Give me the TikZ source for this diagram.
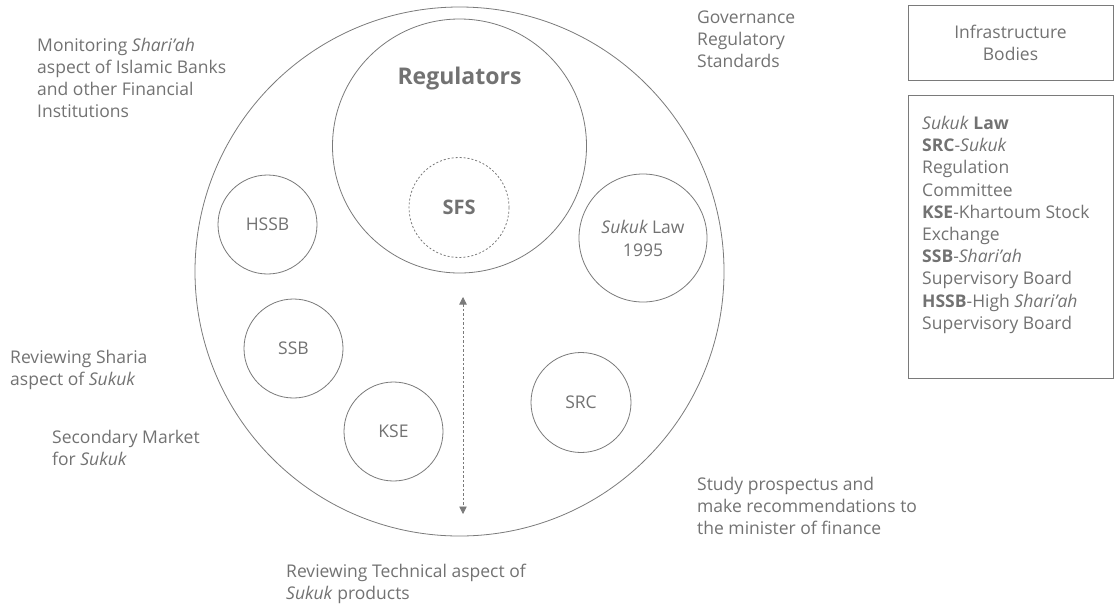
\documentclass[tikz,border=0pt]{standalone}
\usepackage{fontspec}
\setmainfont{Open Sans}
\usetikzlibrary{arrows.meta}
\definecolor{tx}{HTML}{727272}
\definecolor{ln}{HTML}{7A7A7A}
\begin{document}
\begin{tikzpicture}[x=1pt,y=-1pt,
  circ/.style={draw=ln, line width=0.8pt, circle, inner sep=0pt, text=tx, font=\fontsize{17.5}{23}\selectfont, align=center},
  lbl/.style={text=tx, font=\fontsize{17.5}{22}\selectfont, align=left, anchor=north west, inner sep=0pt},
  boxst/.style={draw=ln, line width=0.8pt, inner sep=0pt}]
\useasboundingbox (0,0) rectangle (1115,603);
% circles
\node[circ, minimum size=529] (outer) at (459.5,271.5) {};
\node[circ, minimum size=254] (reg) at (459.5,146) {};
\node[text=tx, font=\fontsize{23}{26}\bfseries\selectfont, inner sep=0pt] (regt) at (459.5,79) {Regulators};
\node[circ, dashed, dash pattern=on 2pt off 2pt, minimum size=100, font=\fontsize{20}{22}\bfseries\selectfont] (sfs) at (459,207.5) {SFS};
\node[circ, minimum size=99] (hssb) at (267.5,224.5) {HSSB};
\node[circ, minimum size=99] (ssb) at (293.5,348.5) {SSB};
\node[circ, minimum size=99] (kse) at (393.5,431.5) {KSE};
\node[circ, minimum size=128] (law) at (643,238) {\itshape Sukuk\upshape{} Law\\1995};
\node[circ, minimum size=100] (src) at (581,402.5) {SRC};
% arrow
\coordinate (atop) at (463,297);
\coordinate (abot) at (463,514);
\draw[ln, line width=0.8pt, dash pattern=on 2.5pt off 2pt, {Triangle[length=7.5pt,width=7.5pt]}-{Triangle[length=7.5pt,width=7.5pt]}] (atop) -- (abot);
% labels
\node[lbl] (l1) at (37,38) {Monitoring \textit{Shari’ah}\\aspect of Islamic Banks\\and other Financial\\Institutions};
\node[lbl] (l2) at (697,11) {Governance\\Regulatory\\Standards};
\node[lbl] (l3) at (10,350) {Reviewing Sharia\\aspect of \textit{Sukuk}};
\node[lbl] (l4) at (52,430) {Secondary Market\\for \textit{Sukuk}};
\node[lbl] (l5) at (697,477) {Study prospectus and\\make recommendations to\\the minister of finance};
\node[lbl] (l6) at (286,564) {Reviewing Technical aspect of\\\textit{Sukuk} products};
% legend boxes
\node[boxst, minimum width=205, minimum height=75, text=tx, font=\fontsize{17.5}{22}\selectfont, align=center] (infra) at (1010.5,42.5) {Infrastructure\\Bodies};
\node[boxst, minimum width=205, minimum height=283, anchor=north west] (legend) at (908,95) {};
\node[lbl, font=\fontsize{17.5}{22.2}\selectfont] (legt) at (922,116) {\textit{Sukuk} \textbf{Law}\\\textbf{SRC}-\textit{Sukuk}\\Regulation\\Committee\\\textbf{KSE}-Khartoum Stock\\Exchange\\\textbf{SSB}-\textit{Shari’ah}\\Supervisory Board\\\textbf{HSSB}-High \textit{Shari’ah}\\Supervisory Board};
\end{tikzpicture}
\end{document}
